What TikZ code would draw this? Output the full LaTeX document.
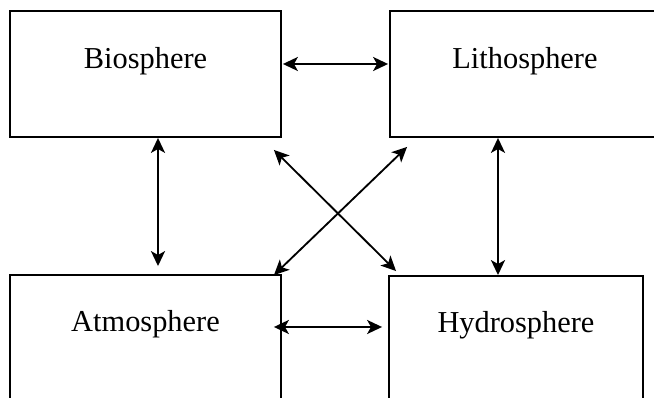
\documentclass[tikz,border=0pt]{standalone}
\usepackage{fontspec}
\setmainfont{Liberation Serif}
\usetikzlibrary{arrows.meta,calc}

\tikzset{
  sphere/.style={draw,line width=1.1pt,rectangle,inner sep=0pt,
    minimum width=5.42cm,minimum height=2.52cm},
  label text/.style={anchor=base,inner sep=0pt,font=\fontsize{17.3}{20}\selectfont},
  link/.style={line width=1.05pt,{Stealth[length=8.5pt,width=8pt,inset=2.2pt]}-{Stealth[length=8.5pt,width=8pt,inset=2.2pt]}}
}

\begin{document}
\begin{tikzpicture}[x=0.02cm,y=-0.02cm]
      \useasboundingbox (0,0) rectangle (654,398);
      \clip (0,0) rectangle (654,398);
      % the four spheres
      \node[sphere] (bio) at (145.5,74) {};
      \node[sphere] (lit) at (525.5,74) {};
      \node[sphere] (atm) at (145.5,338) {};
      \node[sphere,minimum width=5.08cm] (hyd) at (516,339) {};
      \node[label text] (biotext) at (145.5,69) {Biosphere};
      \node[label text] (littext) at (525,69) {Lithosphere};
      \node[label text] (atmtext) at (145.5,332) {Atmosphere};
      \node[label text] (hydtext) at (516,333) {Hydrosphere};
      % exchanges
      \draw[link] ($(bio.east)+(1,-10)$) -- ($(lit.west)+(-1,-10)$);
      \draw[link] ($(bio.south)+(12.5,0)$) -- ($(atm.north)+(12.5,-8)$);
      \draw[link] ($(lit.south)+(-27.5,0)$) -- ($(hyd.north)+(-18,0)$);
      \draw[link] ($(atm.east)+(-8,-11)$) -- ($(hyd.west)+(-6,-12)$);
      \draw[link] ($(bio.south east)+(-8,12)$) -- ($(hyd.north west)+(8,-4)$);
      \draw[link] ($(lit.south west)+(18,9)$) -- ($(atm.north east)+(-8,1)$);
\end{tikzpicture}
\end{document}
